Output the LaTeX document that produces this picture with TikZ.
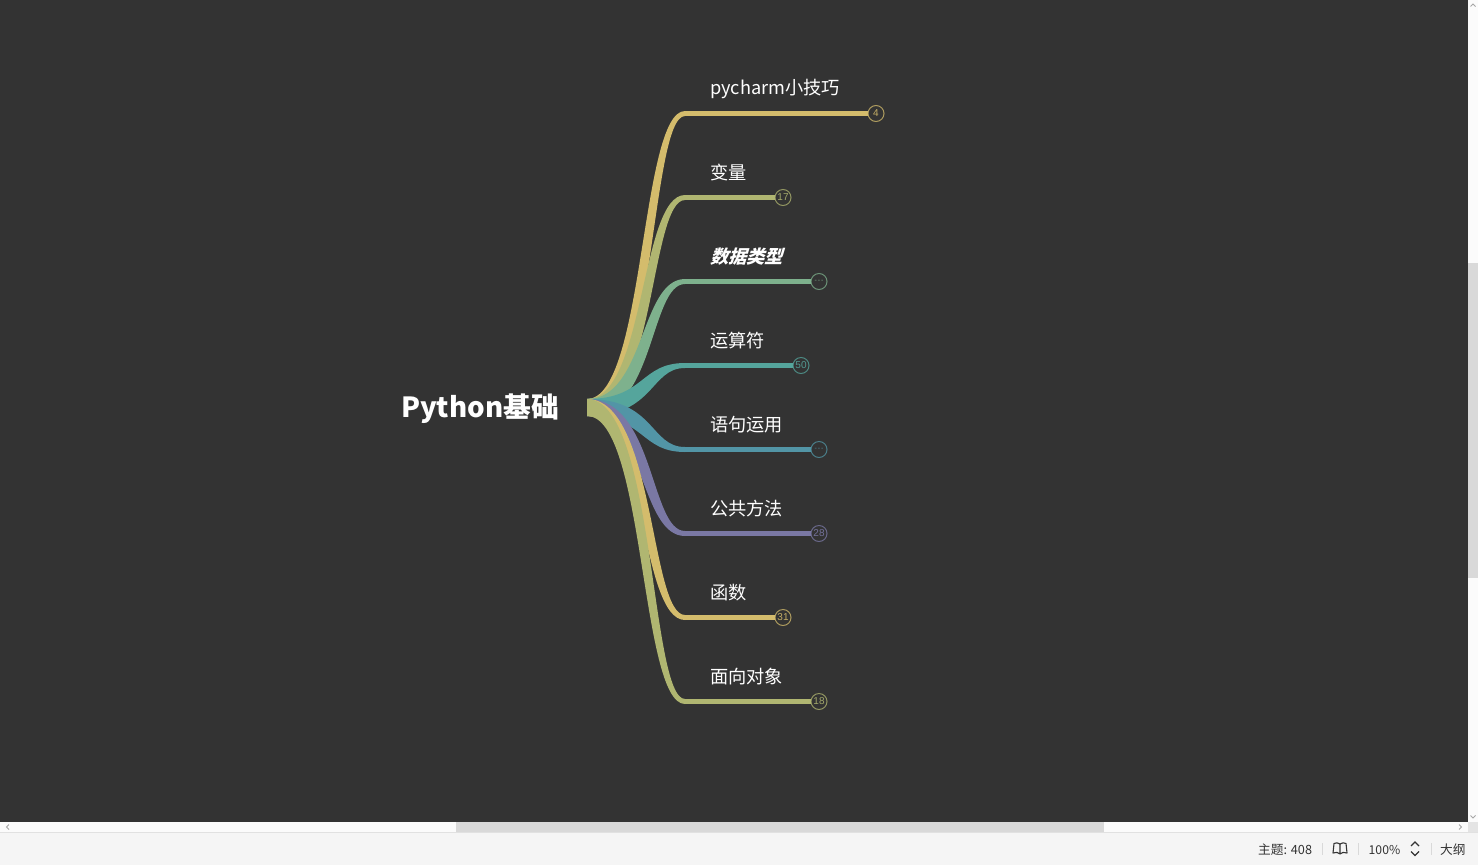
\documentclass[tikz,border=0pt]{standalone}
\usepackage{fontspec}
\setmainfont{Noto Sans CJK SC}
\newfontfamily\cjkfont[BoldFeatures={FakeSlant=0.3}]{Noto Sans CJK SC}
\newfontfamily\latinfont{Liberation Sans}
\definecolor{bg}{HTML}{333333}
\definecolor{cyellow}{HTML}{D4BC6C}
\definecolor{colive}{HTML}{B0B671}
\definecolor{cgreen}{HTML}{7EB18D}
\definecolor{cteal}{HTML}{55A59C}
\definecolor{cblue}{HTML}{5295A6}
\definecolor{cpurple}{HTML}{7A78A4}
\definecolor{barbg}{HTML}{FBFBFB}
\definecolor{thumb}{HTML}{D9D9D9}
\definecolor{statusbg}{HTML}{F5F5F5}
\definecolor{statustx}{HTML}{333333}
\tikzset{
  toplabel/.style={anchor=west,inner sep=0pt,text=white,font=\fontsize{18.2}{20}\selectfont},
  badge/.style={circle,minimum size=16pt,inner sep=0pt,line width=1pt,fill=bg,font=\latinfont\fontsize{10}{10}\selectfont},
  statustext/.style={inner sep=0pt,text=statustx,font=\fontsize{12.7}{14}\selectfont},
  chev/.style={draw=#1,line width=0.9pt,fill=none},
  sep/.style={draw=thumb,line width=0.8pt}
}
\newcommand{\moredots}{{\fontsize{7}{8}\selectfont -\kern1pt-\kern1pt-}}
% name,y,color,endx,badge text, c1 c2 of the edge from rt, c1 c2 of the edge from rb
\newcommand{\branchshape}[9]{%
  \coordinate (#1-t) at (685,#2-2.5);
  \coordinate (#1-b) at (685,#2+2.5);
  \coordinate (#1-s) at (685,#2);
  \fill[#3] (rt) .. controls (#6,399) and (#7,#2-2.5) .. (#1-t)
     -- (#1-b) .. controls (#9,#2+2.5) and (#8,416) .. (rb) -- cycle;
  \node[badge,draw=#3!75!bg,text=#3!90!bg] (#1-n) at (#4+8,#2) {#5};
  \draw[#3,line width=5pt] (#1-s) -- (#1-n.west);
}
\newcommand{\branchup}[6]{\branchshape{#1}{#2}{#3}{#4}{#6}{645}{640}{655}{650}\node[toplabel] (#1-l) at (710,#2-24.5) {#5};}
\newcommand{\branchdown}[6]{\branchshape{#1}{#2}{#3}{#4}{#6}{655}{650}{645}{640}\node[toplabel] (#1-l) at (710,#2-24.5) {#5};}
\begin{document}
\begin{tikzpicture}[x=1pt,y=-1pt]
\useasboundingbox (0,0) rectangle (1478,865);
\fill[bg] (0,0) rectangle (1468,822);
\fill[barbg] (1468,0) rectangle (1478,822);
\fill[thumb] (1468,263) rectangle (1478,578);
\fill[barbg] (0,822) rectangle (1468,832);
\fill[thumb] (456,822) rectangle (1104,832);
\fill[thumb!70!white] (1468,822) rectangle (1478,832);
\fill[statusbg] (0,833) rectangle (1478,865);
\draw[thumb!80!white,line width=1pt] (0,832.5) -- (1478,832.5);
% scrollbar arrows
\draw[chev=gray!70] (1470.5,6.5) -- (1473,4) -- (1475.5,6.5);
\draw[chev=gray!70] (1470.5,815.5) -- (1473,818) -- (1475.5,815.5);
\draw[chev=gray!70] (9,824.5) -- (6.5,827) -- (9,829.5);
\draw[chev=gray!70] (1459,824.5) -- (1461.5,827) -- (1459,829.5);
% root
\coordinate (rt) at (587,399);
\coordinate (rb) at (587,416);
\node[inner sep=0pt,text=white,font=\bfseries\fontsize{27.7}{30}\selectfont] (root) at (480,409) {Python基础};
\branchup{a}{113.5}{cyellow}{868}{pycharm小技巧}{4}
\branchup{b}{197.5}{colive}{775}{变量}{17}
\branchup{c}{281.5}{cgreen}{811}{\cjkfont\bfseries 数据类型}{\moredots}
\branchup{d}{365.5}{cteal}{793}{运算符}{50}
\branchdown{e}{449.5}{cblue}{811}{语句运用}{\moredots}
\branchdown{f}{533.5}{cpurple}{811}{公共方法}{28}
\branchdown{g}{617.5}{cyellow}{775}{函数}{31}
\branchdown{h}{701.5}{colive}{811}{面向对象}{18}
% status bar
\node[statustext,anchor=west] (st1) at (1258,849.5) {主题: 408};
\draw[sep] (1322,843) -- (1322,855);
\draw[statustx,line width=1.1pt,line join=round] (1340,844) -- (1340,854) (1340,844) .. controls (1338,842.5) and (1336,842.5) .. (1334,843.5) -- (1333,853) .. controls (1336,852) and (1338,852) .. (1340,854) .. controls (1342,852) and (1344,852) .. (1347,853) -- (1346,843.5) .. controls (1344,842.5) and (1342,842.5) .. (1340,844);
\draw[sep] (1358,843) -- (1358,855);
\node[statustext,anchor=west,font=\fontsize{12.2}{14}\selectfont] (st2) at (1368.5,850) {100\%};
\draw[statustx,line width=1.2pt] (1411,846) -- (1415,842) -- (1419,846) (1411,851.5) -- (1415,855.5) -- (1419,851.5);
\draw[sep] (1431,843) -- (1431,855);
\node[statustext,anchor=west] (st3) at (1440,849.5) {大纲};
\end{tikzpicture}
\end{document}
